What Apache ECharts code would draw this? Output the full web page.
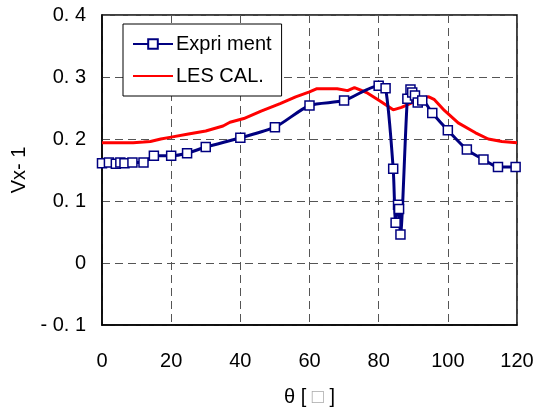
<!DOCTYPE html>
<html>
<head>
<meta charset="utf-8">
<script src="https://cdn.jsdelivr.net/npm/echarts@6/dist/echarts.min.js"></script>
<style>
  html, body { margin: 0; padding: 0; background: #fff; }
  #chart { width: 537px; height: 414px; }
</style>
</head>
<body>
<div id="chart"></div>
<script>
// Measured profile (theta in degrees, Vx-1)
const expTheta = [0, 2, 4, 5.3, 6.5, 8.8, 12, 15, 20, 24.6, 30, 40, 50, 60, 70, 80, 82,
  84.2, 84.9, 85.6, 85.9, 86.3, 88.3, 89.2, 89.7, 90.5, 91.3, 92.6, 95.5, 100, 105.5, 110.3, 114.5, 119.6];
const expValue = [0.161, 0.162, 0.160, 0.162, 0.161, 0.162, 0.162, 0.173, 0.173, 0.177, 0.187, 0.202, 0.219, 0.254, 0.262, 0.286, 0.282,
  0.152, 0.065, 0.094, 0.087, 0.046, 0.265, 0.280, 0.275, 0.270, 0.259, 0.262, 0.242, 0.214, 0.183, 0.167, 0.155, 0.155];

// LES calculation
const lesTheta = [0, 5, 9, 12, 14, 17, 20, 25, 30, 35, 37, 41, 46, 51.5, 56, 60, 62, 66, 68, 71, 73,
  76.5, 80.5, 84.2, 86.6, 88.6, 91, 92.5, 94.5, 96, 99, 103, 108, 111.7, 115.6, 120];
const lesValue = [0.194, 0.194, 0.194, 0.195, 0.196, 0.200, 0.203, 0.208, 0.213, 0.221, 0.227, 0.233, 0.245, 0.257, 0.268, 0.276, 0.281, 0.281, 0.281, 0.278, 0.283,
  0.275, 0.261, 0.247, 0.251, 0.256, 0.262, 0.266, 0.268, 0.264, 0.246, 0.226, 0.210, 0.200, 0.196, 0.194];

const xTicks = [0, 20, 40, 60, 80, 100, 120];
const yTickValues = [-0.1, 0, 0.1, 0.2, 0.3, 0.4];
const yTickLabels = ['- 0. 1', '0', '0. 1', '0. 2', '0. 3', '0. 4'];

const seriesNames = ['Expri ment', 'LES CAL.'];

const FONT = '"Liberation Sans", Arial, sans-serif';

function zip(a, b) { return a.map((v, i) => [v, b[i]]); }

const chart = echarts.init(document.getElementById('chart'), null, { renderer: 'canvas' });

chart.setOption({
  animation: false,
  backgroundColor: '#ffffff',
  grid: {
    left: 102, right: 20, top: 15, bottom: 89,
    show: true, borderColor: '#000', borderWidth: 1.5, backgroundColor: 'transparent'
  },
  legend: {
    data: [
      { name: seriesNames[0] },
      { name: seriesNames[1], itemStyle: { opacity: 0 } }
    ],
    orient: 'vertical',
    left: 123, top: 24,
    itemWidth: 40, itemHeight: 12, itemGap: 12,
    padding: [10, 10, 10, 9],
    backgroundColor: '#fff',
    borderColor: '#000', borderWidth: 1,
    textStyle: { fontFamily: FONT, fontSize: 20, color: '#000', padding: [0, 0, 0, -2] }
  },
  xAxis: {
    type: 'value', min: 0, max: 120, interval: 20,
    axisLine: { show: true, onZero: false, lineStyle: { color: '#000', width: 1.5 } },
    axisTick: { show: false },
    axisLabel: {
      fontFamily: FONT, fontSize: 20, color: '#000', margin: 26,
      formatter: v => (xTicks.indexOf(v) >= 0 ? String(v) : '')
    },
    splitLine: { show: true, lineStyle: { color: '#555', type: [8, 5], width: 1 } },
    name: '{a|θ [ }{b|□}{a| ]}',
    nameLocation: 'middle', nameGap: 62,
    nameTextStyle: {
      rich: {
        a: { fontFamily: FONT, fontSize: 20, color: '#000' },
        b: { fontFamily: FONT, fontSize: 20, color: '#aaa' }
      }
    }
  },
  yAxis: {
    type: 'value', min: -0.1, max: 0.4, interval: 0.1,
    axisLine: { show: true, onZero: false, lineStyle: { color: '#000', width: 1.5 } },
    axisTick: { show: false },
    axisLabel: {
      fontFamily: FONT, fontSize: 20, color: '#000', margin: 16,
      formatter: v => {
        const i = yTickValues.findIndex(t => Math.abs(t - v) < 1e-6);
        return i >= 0 ? yTickLabels[i] : '';
      }
    },
    splitLine: { show: true, lineStyle: { color: '#555', type: [8, 5], width: 1 } },
    name: 'Vx- 1',
    nameLocation: 'middle', nameGap: 67, nameRotate: 90,
    nameTextStyle: { fontFamily: FONT, fontSize: 20, color: '#000' }
  },
  series: [
    {
      name: seriesNames[1],
      type: 'line',
      data: zip(lesTheta, lesValue),
      showSymbol: false,
      lineStyle: { color: '#ff0000', width: 3 },
      itemStyle: { color: '#ff0000' },
      z: 2
    },
    {
      name: seriesNames[0],
      type: 'line',
      data: zip(expTheta, expValue),
      smooth: 0.25,
      symbol: 'rect',
      symbolSize: 9,
      lineStyle: { color: '#000080', width: 3 },
      itemStyle: { color: '#fff', borderColor: '#000080', borderWidth: 1.5 },
      z: 3
    }
  ]
});
</script>
</body>
</html>
